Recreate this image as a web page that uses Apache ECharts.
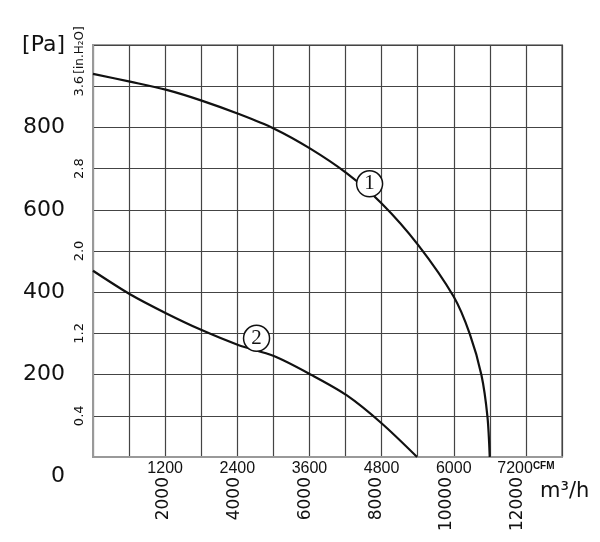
<!DOCTYPE html>
<html>
<head>
<meta charset="utf-8">
<script src="https://cdn.jsdelivr.net/npm/echarts@6/dist/echarts.min.js"></script>
<style>
html,body{margin:0;padding:0;background:#fff;}
#main{width:600px;height:542px;}
</style>
</head>
<body>
<div id="main"></div>
<script>
// 风量 CFM / 静压 Pa
let curve1Cfm=[0,615,1225,1807,2415,2997,3607,4217,4797,5406,6000,6266,6460,6560,6598];
let curve1Pa=[930,911,891,865,833,798,749,689,616,515,389,299,199,98,0];
let curve2Cfm=[0,615,1213,1807,2415,3008,3635,4217,4799,5390];
let curve2Pa=[452,395,349,308,272,245,199,150,82,0];
// 曲线编号圆圈位置
let tagNames=['1','2'];
let tagCfm=[4600,2720];
let tagPa=[663,288];
// 刻度
let cfmTicks=[1200,2400,3600,4800,6000,7200];
let m3hTicks=[2000,4000,6000,8000,10000,12000];
let paTicks=[200,400,600,800];
let inH2OTicks=[0.4,1.2,2.0,2.8,3.6];

const CFM_MAX=7800;
const M3H_PER_CFM=1.699;
const PA_PER_INH2O=250;
const narrow="'DejaVu Sans',sans-serif";
const arial='Liberation Sans, Arial, sans-serif';

function pairs(xs,ys){
    let out=[];
    for(let i=0;i<xs.length;i++){
        out.push([xs[i],ys[i]]);
    }
    return out;
}

let chart=echarts.init(document.getElementById('main'));
let option={
    backgroundColor:'#fff',
    animation:false,
    grid:{
        left:93,
        right:38,
        top:45,
        bottom:85,
        show:true,
        borderColor:'#999',
        borderWidth:2
    },
    xAxis:[
        {
            type:'value',
            min:0,
            max:CFM_MAX,
            interval:600,
            axisLine:{show:true,lineStyle:{color:'#999',width:2}},
            axisTick:{show:false},
            splitLine:{show:true,lineStyle:{color:'#444',width:1.2}},
            axisLabel:{
                margin:4,
                color:'#111',
                fontSize:16,
                fontFamily:arial,
                showMaxLabel:false,
                formatter:function(v){
                    if(cfmTicks.indexOf(v)<0) return '';
                    if(v===7200) return '7200{c|CFM}';
                    return String(v);
                },
                rich:{
                    c:{fontSize:10,fontWeight:'bold',fontFamily:arial,color:'#111',verticalAlign:'top',padding:[0,0,4,0]}
                }
            }
        },
        {
            type:'value',
            position:'bottom',
            min:0,
            max:CFM_MAX*M3H_PER_CFM,
            interval:2000,
            axisLine:{show:false},
            axisTick:{show:false},
            splitLine:{show:false},
            axisLabel:{
                rotate:90,
                margin:20,
                color:'#111',
                fontSize:17,
                fontFamily:narrow,
                showMaxLabel:false,
                formatter:function(v){
                    return m3hTicks.indexOf(v)<0?'':String(v);
                }
            },
            name:'m³/h',
            nameLocation:'end',
            nameGap:-22,
            nameTextStyle:{
                color:'#111',
                fontSize:21,
                fontFamily:narrow,
                align:'left',
                verticalAlign:'top',
                padding:[24,0,0,0]
            }
        }
    ],
    yAxis:[
        {
            type:'value',
            position:'left',
            min:0,
            max:1000,
            interval:100,
            axisLine:{show:true,lineStyle:{color:'#999',width:2}},
            axisTick:{show:false},
            splitLine:{show:true,lineStyle:{color:'#444',width:1.2}},
            axisLabel:{
                margin:28,
                color:'#111',
                fontSize:22,
                fontFamily:narrow,
                showMaxLabel:true,
                formatter:function(v){
                    if(v===0) return '{z|0}';
                    if(v===1000) return '[Pa]';
                    return paTicks.indexOf(v)<0?'':String(v);
                },
                rich:{
                    z:{fontSize:22,fontFamily:narrow,color:'#111',padding:[38,0,0,0]}
                }
            }
        },
        {
            type:'value',
            position:'left',
            min:0,
            max:1000,
            interval:100,
            axisLine:{show:false},
            axisTick:{show:false},
            splitLine:{show:false},
            axisLabel:{
                rotate:90,
                margin:7,
                color:'#111',
                fontSize:13,
                fontFamily:narrow,
                showMaxLabel:true,
                formatter:function(v){
                    if(v===1000) return '{h|[in.H₂O]}';
                    let w=v/PA_PER_INH2O;
                    for(let i=0;i<inH2OTicks.length;i++){
                        if(Math.abs(inH2OTicks[i]-w)<1e-6) return w.toFixed(1);
                    }
                    return '';
                },
                rich:{
                    h:{fontSize:12,fontFamily:narrow,color:'#111',padding:[0,10,0,0]}
                }
            }
        }
    ],
    series:[
        {
            name:'1',
            type:'line',
            xAxisIndex:0,
            yAxisIndex:0,
            data:pairs(curve1Cfm,curve1Pa),
            smooth:0.3,
            showSymbol:false,
            lineStyle:{color:'#111',width:2.2},
            z:3
        },
        {
            name:'2',
            type:'line',
            xAxisIndex:0,
            yAxisIndex:0,
            data:pairs(curve2Cfm,curve2Pa),
            smooth:0.3,
            showSymbol:false,
            lineStyle:{color:'#111',width:2.2},
            z:3
        },
        {
            name:'tags',
            type:'scatter',
            xAxisIndex:0,
            yAxisIndex:0,
            data:pairs(tagCfm,tagPa).map(function(p,i){return {value:p,name:tagNames[i]};}),
            symbol:'circle',
            symbolSize:26,
            itemStyle:{color:'#fff',borderColor:'#111',borderWidth:1.5,opacity:1},
            label:{
                show:true,
                position:'inside',
                formatter:function(p){return p.name;},
                color:'#111',
                fontSize:21,
                fontFamily:"'Liberation Serif','DejaVu Serif',serif"
            },
            z:5
        }
    ]
};
chart.setOption(option);
</script>
</body>
</html>
